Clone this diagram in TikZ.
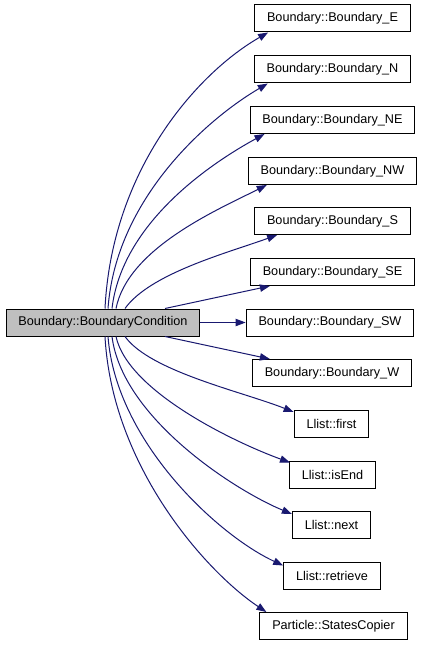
\documentclass[tikz,border=0pt]{standalone}
\usepackage{fontspec}
\setmainfont{Liberation Sans}
\usetikzlibrary{arrows.meta,calc}
\definecolor{edgeblue}{HTML}{191970}
\definecolor{mainfill}{HTML}{BFBFBF}

\begin{document}
\begin{tikzpicture}[x=0.75pt, y=-0.75pt,
	box/.style={draw=black, line width=0.75pt, fill=white, inner xsep=9.3pt, inner ysep=0pt, minimum height=20.25pt, font=\fontsize{9.5pt}{11pt}\selectfont},
	edge/.style={draw=edgeblue, line width=0.75pt, -{Triangle[length=7.5pt, width=5.5pt]}}]
	\useasboundingbox [fill=white] (0,0) rectangle (421,645);
	% caller
	\node[box, fill=mainfill] (cond) at (103,322.5) {Boundary::BoundaryCondition};
	% callees
	\node[box] (bE) at (332.5,18.5) {Boundary::Boundary\_E};
	\node[box] (bN) at (332.5,69.5) {Boundary::Boundary\_N};
	\node[box] (bNE) at (332.5,120) {Boundary::Boundary\_NE};
	\node[box] (bNW) at (332.5,171) {Boundary::Boundary\_NW};
	\node[box] (bS) at (332.5,221) {Boundary::Boundary\_S};
	\node[box] (bSE) at (332.5,272) {Boundary::Boundary\_SE};
	\node[box] (bSW) at (330,322.5) {Boundary::Boundary\_SW};
	\node[box] (bW) at (332,373) {Boundary::Boundary\_W};
	\node[box] (lfirst) at (331.5,424) {Llist::first};
	\node[box] (lisend) at (332.5,474.5) {Llist::isEnd};
	\node[box] (lnext) at (331.5,525) {Llist::next};
	\node[box] (lretrieve) at (332,575.5) {Llist::retrieve};
	\node[box] (pcopier) at (333.5,626) {Particle::StatesCopier};
	% calls upwards
	\draw[edge] ($(cond.north)+(2,0)$) .. controls +(7,-140) and +(-70,40) .. ($(bE.south west)+(14,0)$);
	\draw[edge] ($(cond.north)+(5,0)$) .. controls +(8,-110) and +(-60,35) .. ($(bN.south west)+(14,0)$);
	\draw[edge] ($(cond.north)+(9,0)$) .. controls +(10,-85) and +(-55,30) .. ($(bNE.south west)+(15,0)$);
	\draw[edge] ($(cond.north)+(13,0)$) .. controls +(12,-60) and +(-50,25) .. ($(bNW.south west)+(19,0)$);
	\draw[edge] ($(cond.north)+(22,0)$) .. controls +(25,-35) and +(-50,18) .. ($(bS.south west)+(23,0)$);
	\draw[edge] ($(cond.north)+(62,0)$) -- ($(bSE.south west)+(20,0)$);
	\draw[edge] (cond.east) -- (bSW.west);
	% calls downwards
	\draw[edge] ($(cond.south)+(62,0)$) -- ($(bW.north west)+(18,0)$);
	\draw[edge] ($(cond.south)+(22,0)$) .. controls +(25,35) and +(-50,-20) .. ($(lfirst.north west)+(0,2)$);
	\draw[edge] ($(cond.south)+(13,0)$) .. controls +(12,55) and +(-55,-20) .. ($(lisend.north west)+(1,2)$);
	\draw[edge] ($(cond.south)+(9,0)$) .. controls +(10,80) and +(-60,-25) .. ($(lnext.north west)+(0,3)$);
	\draw[edge] ($(cond.south)+(5,0)$) .. controls +(8,105) and +(-65,-30) .. ($(lretrieve.north west)+(0,4)$);
	\draw[edge] ($(cond.south)+(2,0)$) .. controls +(7,130) and +(-60,-40) .. ($(pcopier.north west)+(7,0)$);
\end{tikzpicture}
\end{document}
